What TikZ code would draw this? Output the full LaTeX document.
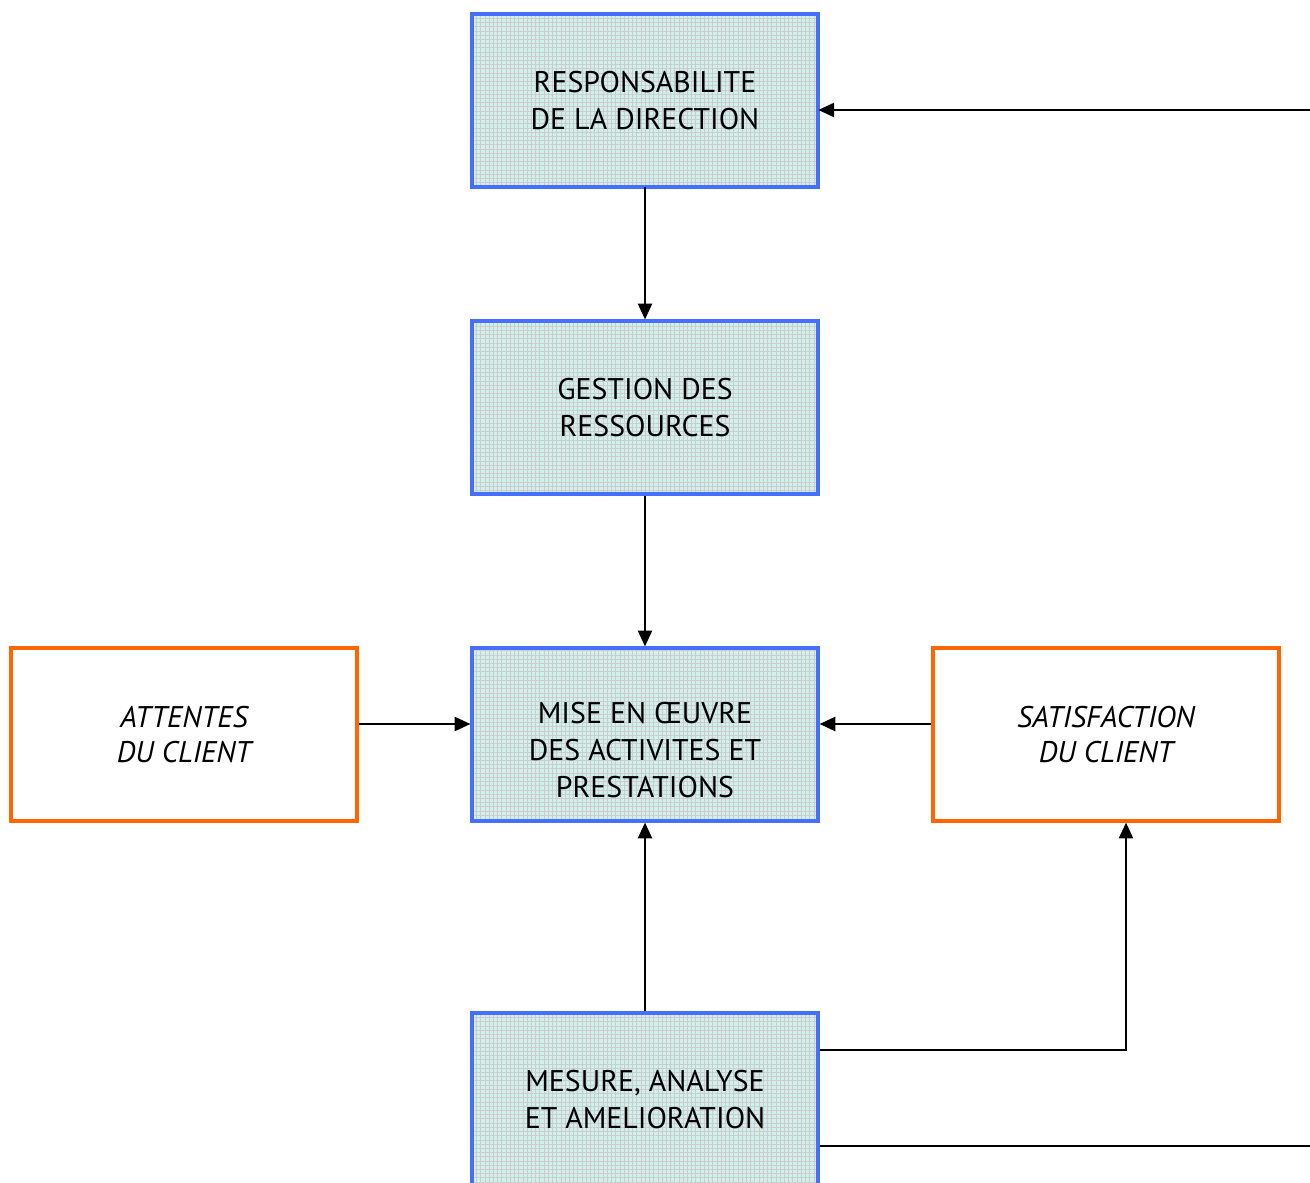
\documentclass[tikz,border=0pt]{standalone}
\usepackage{fontspec}
\setmainfont{PT Sans}
\usetikzlibrary{arrows.meta, patterns.meta}
\definecolor{boxblue}{RGB}{70,110,255}
\definecolor{boxorange}{RGB}{255,102,0}
\definecolor{meshfill}{RGB}{208,240,236}
\tikzset{
  procbox/.style={rectangle, draw=boxblue, line width=1.8pt, preaction={fill=meshfill},
    pattern={Hatch[angle=0, distance=2.4pt, line width=0.35pt]}, pattern color=gray!40,
    minimum width=6.92cm, minimum height=3.46cm, align=center, font=\fontsize{17}{21}\selectfont, inner sep=0pt},
  clientbox/.style={rectangle, draw=boxorange, line width=1.8pt, fill=white,
    minimum width=6.92cm, minimum height=3.46cm, align=center, font=\fontsize{17}{20}\selectfont\itshape, inner sep=0pt},
  flow/.style={line width=1.3pt, -{Triangle[length=9pt, width=8pt]}}
}

\begin{document}
\begin{tikzpicture}[x=0.02cm, y=-0.02cm]
\useasboundingbox (0,0) rectangle (1310,1182);

\node[procbox] (dir) at (645,100.5) {RESPONSABILITE\\DE LA DIRECTION};
\node[procbox] (res) at (645,407.5) {GESTION DES\\RESSOURCES};
\node[procbox] (real) at (645,734.5) {\rule{0pt}{1.05cm}MISE EN \OE UVRE\\DES ACTIVITES ET\\PRESTATIONS};
\node[procbox] (mes) at (645,1099.5) {MESURE, ANALYSE\\ET AMELIORATION};

\node[clientbox] (att) at (184,734.5) {ATTENTES\\DU CLIENT};
\node[clientbox] (sat) at (1106,734.5) {SATISFACTION\\DU CLIENT};

\coordinate (out) at (1310,1146);
\coordinate (in) at (1310,110);

\draw[flow] (dir) -- (res);
\draw[flow] (res) -- (real);
\draw[flow] (mes) -- (real);
\draw[flow] (att.east |- 0,724) -- (real.west |- 0,724);
\draw[flow] (sat.west |- 0,724) -- (real.east |- 0,724);
\draw[flow] (mes.east |- 0,1050) -| (sat.south -| 1126,0);
\draw[line width=1.3pt] (mes.east |- out) -- (out);
\draw[flow] (in) -- (dir.east |- in);
\end{tikzpicture}
\end{document}
